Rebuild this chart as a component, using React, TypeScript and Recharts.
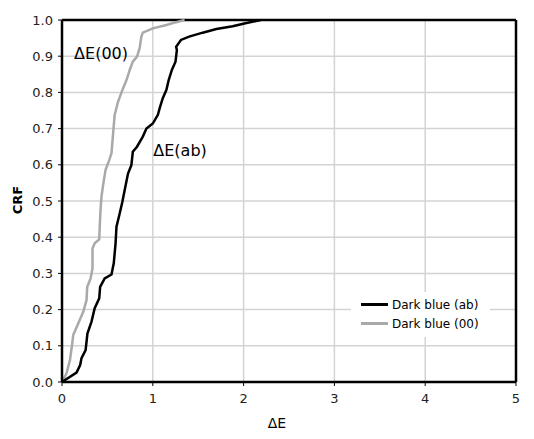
import React from 'react';
import {
  LineChart,
  Line,
  XAxis,
  YAxis,
  CartesianGrid,
  ReferenceLine,
  ReferenceDot,
  Label
} from 'recharts';

// ΔE(ab) cumulative curve
const abX = [0, 0.16, 0.2, 0.215, 0.26, 0.28, 0.325, 0.36, 0.41, 0.42, 0.47, 0.545, 0.57, 0.59, 0.6, 0.636, 0.665, 0.69, 0.727, 0.764, 0.78, 0.826, 0.89, 0.93, 1.0, 1.056, 1.08, 1.11, 1.15, 1.175, 1.21, 1.25, 1.265, 1.257, 1.31, 1.4, 1.55, 1.7, 1.88, 2.02, 2.19];
const abY = [0, 0.026, 0.047, 0.066, 0.088, 0.134, 0.167, 0.204, 0.231, 0.263, 0.286, 0.297, 0.328, 0.383, 0.429, 0.466, 0.498, 0.53, 0.576, 0.599, 0.636, 0.65, 0.678, 0.7, 0.714, 0.738, 0.76, 0.784, 0.807, 0.834, 0.862, 0.885, 0.917, 0.926, 0.945, 0.954, 0.965, 0.975, 0.983, 0.991, 1.0];

// ΔE(00) cumulative curve
const deX = [0, 0.05, 0.088, 0.113, 0.124, 0.18, 0.234, 0.27, 0.278, 0.315, 0.336, 0.336, 0.36, 0.41, 0.417, 0.424, 0.435, 0.453, 0.48, 0.52, 0.545, 0.563, 0.58, 0.617, 0.672, 0.71, 0.746, 0.78, 0.826, 0.855, 0.874, 0.89, 1.0, 1.15, 1.257, 1.35];
const deY = [0, 0.024, 0.061, 0.107, 0.13, 0.162, 0.194, 0.226, 0.263, 0.286, 0.314, 0.369, 0.383, 0.394, 0.438, 0.475, 0.512, 0.545, 0.586, 0.613, 0.632, 0.687, 0.738, 0.774, 0.811, 0.834, 0.862, 0.885, 0.899, 0.922, 0.954, 0.965, 0.977, 0.986, 0.994, 1.0];

const xTicks = [0, 1, 2, 3, 4, 5];
const yTicks = [0, 0.1, 0.2, 0.3, 0.4, 0.5, 0.6, 0.7, 0.8, 0.9, 1.0];

const abData = abX.map((x, i) => ({ x, y: abY[i] }));
const deData = deX.map((x, i) => ({ x, y: deY[i] }));

const font = '"DejaVu Sans", sans-serif';

const LegendBox = () => (
  <div style={{
    position: 'absolute', left: 351, top: 292, width: 129, height: 39,
    background: '#fff', padding: '3px 0 3px 10px', fontFamily: font, fontSize: 12, color: '#000'
  }}>
    <div style={{ display: 'flex', alignItems: 'center', height: 19 }}>
      <span style={{ width: 27, height: 2.5, background: '#000', marginRight: 4 }} />
      Dark blue (ab)
    </div>
    <div style={{ display: 'flex', alignItems: 'center', height: 19 }}>
      <span style={{ width: 27, height: 2.5, background: '#a9a9a9', marginRight: 4 }} />
      Dark blue (00)
    </div>
  </div>
);

export default function App() {
  return (
    <div style={{ position: 'absolute', left: 0, top: 0, width: 534, height: 439, background: '#fff' }}>
      <LineChart width={534} height={439} margin={{ top: 20, right: 18, left: 0, bottom: 0 }}>
        <CartesianGrid stroke="#d3d3d3" strokeWidth={1.5} />
        <XAxis
          type="number"
          dataKey="x"
          domain={[0, 5]}
          ticks={xTicks}
          height={57}
          allowDuplicatedCategory={false}
          axisLine={{ stroke: '#000', strokeWidth: 2.5 }}
          tickLine={{ stroke: '#000', strokeWidth: 1 }}
          tickSize={4}
          tickMargin={8}
          tick={{ fill: '#222', fontSize: 13, fontFamily: font }}
        >
          <Label
            content={() => (
              <text x={277} y={428} textAnchor="middle" fontFamily={font} fontSize={14} fill="#000">ΔE</text>
            )}
          />
        </XAxis>
        <YAxis
          type="number"
          dataKey="y"
          domain={[0, 1]}
          ticks={yTicks}
          width={62}
          axisLine={{ stroke: '#000', strokeWidth: 2.5 }}
          tickLine={{ stroke: '#000', strokeWidth: 1 }}
          tickSize={4}
          tickMargin={5}
          tickFormatter={(v: number) => v.toFixed(1)}
          tick={{ fill: '#222', fontSize: 13, fontFamily: font }}
        >
          <Label
            content={() => (
              <text x={22} y={200} transform="rotate(-90 22 200)" textAnchor="middle" fontFamily={font} fontSize={13} fontWeight="bold" fill="#000">CRF</text>
            )}
          />
        </YAxis>
        <ReferenceLine y={1} stroke="#000" strokeWidth={2.5} />
        <ReferenceLine x={5} stroke="#000" strokeWidth={2.5} />
        <Line data={deData} dataKey="y" name="Dark blue (00)" type="linear" stroke="#a9a9a9" strokeWidth={2.5} dot={false} isAnimationActive={false} />
        <Line data={abData} dataKey="y" name="Dark blue (ab)" type="linear" stroke="#000" strokeWidth={2.5} dot={false} isAnimationActive={false} />
        <ReferenceDot x={0.43} y={0.909} r={0} fill="none" stroke="none"
          label={{ value: 'ΔE(00)', position: 'center', fontSize: 16, fontFamily: font, fill: '#000' }} />
        <ReferenceDot x={1.3} y={0.641} r={0} fill="none" stroke="none"
          label={{ value: 'ΔE(ab)', position: 'center', fontSize: 16, fontFamily: font, fill: '#000' }} />
      </LineChart>
      <LegendBox />
    </div>
  );
}
